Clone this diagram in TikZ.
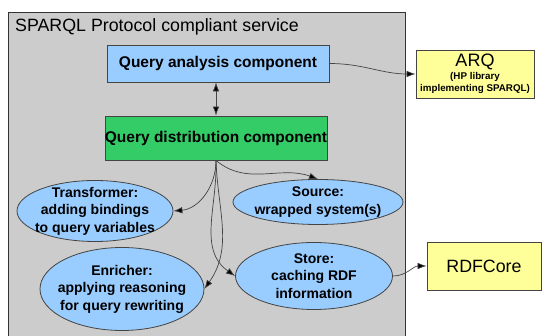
\documentclass[tikz,border=0pt]{standalone}
\usepackage{fontspec}
\setmainfont{Liberation Sans}
\usepackage{tikz}
\usetikzlibrary{
  arrows.meta,
  positioning,
  shapes.geometric
}
\definecolor{servicegray}{HTML}{CCCCCC}
\definecolor{analysisblue}{HTML}{99CCFF}
\definecolor{distgreen}{HTML}{33CC66}
\definecolor{libyellow}{HTML}{FFFF99}
\definecolor{edgegray}{HTML}{444444}

\begin{document}
\begin{tikzpicture}[x=1pt,y=1pt,
    box/.style={draw=edgegray, line width=0.8pt, inner sep=0pt},
    component/.style={box, font=\fontsize{15.5}{18}\selectfont\bfseries},
    plugin/.style={ellipse, draw=edgegray, line width=0.8pt, fill=analysisblue, inner sep=0pt},
    plugintext/.style={align=center, inner sep=0pt, font=\fontsize{14}{17.5}\selectfont\bfseries},
    flow/.style={-{Latex[length=9pt,width=6.5pt,fill=black]}, edgegray, line width=0.7pt}
  ]
  \useasboundingbox (0,0) rectangle (542,-336);
  % service container
  \node[box, fill=servicegray, draw=black!80, anchor=north west,
        minimum width=397, minimum height=324] (service) at (8,-12) {};
  \node[anchor=base west, inner sep=0pt, font=\fontsize{17.8}{20}\selectfont] (title) at (15,-32)
        {SPARQL Protocol compliant service};
  % components
  \node[component, fill=analysisblue, minimum width=222, minimum height=37] (qa) at (218,-63.5)
        {Query analysis component};
  \node[component, fill=distgreen, minimum width=210, minimum height=44] (qd) at (216,-138)
        {Query distribution component};
  % plugins
  \node[plugin, minimum width=156, minimum height=61,
        label={[plugintext]center:{Transformer:\\adding bindings\\to query variables}}] (trans) at (95,-211) {};
  \node[plugin, minimum width=164, minimum height=83,
        label={[plugintext]center:{Enricher:\\applying reasoning\\for query rewriting}}] (enrich) at (122,-289) {};
  \node[plugin, minimum width=170, minimum height=45,
        label={[plugintext]center:{Source:\\wrapped system(s)}}] (source) at (318,-202) {};
  \node[plugin, minimum width=157, minimum height=67,
        label={[plugintext]center:{Store:\\caching RDF\\information}}] (store) at (314,-276) {};
  % external libraries
  \node[box, fill=libyellow, minimum width=118, minimum height=48, align=center] (arq) at (475,-74)
        {\fontsize{18}{19}\selectfont ARQ\\[1pt]
         \fontsize{9.8}{12}\selectfont\bfseries (HP library\\
         \fontsize{9.8}{12}\selectfont\bfseries implementing SPARQL)};
  \node[box, fill=libyellow, minimum width=114, minimum height=48,
        font=\fontsize{17.8}{20}\selectfont] (rdfcore) at (484,-266) {RDFCore};
  % connectors
  \draw[flow, {Latex[length=9pt,width=6.5pt,fill=black]}-{Latex[length=9pt,width=6.5pt,fill=black]}]
        (qd.north) -- (qd.north |- qa.south);
  \draw[flow] (qa.east) to[out=0, in=180] (arq.west);
  \draw[flow] (qd.south) to[out=-90, in=5] (trans.east);
  \draw[flow] (qd.south) to[out=-88, in=55] (enrich.east);
  \draw[flow] (qd.south) to[out=-88, in=145] (store.west);
  \draw[flow] (qd.south) to[out=-40, in=160] (source.north);
  \draw[flow] (store.east) to[out=0, in=180] (rdfcore.west);
\end{tikzpicture}
\end{document}
